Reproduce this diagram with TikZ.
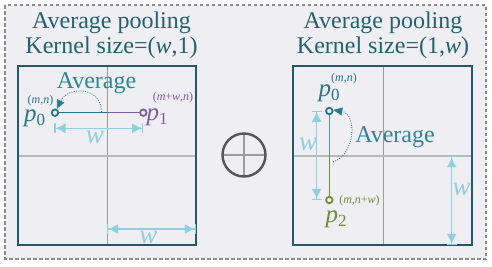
\documentclass[tikz,border=0pt]{standalone}
\usepackage{fontspec}
\setmainfont{Liberation Serif}
\usetikzlibrary{arrows.meta}
\definecolor{bgc}{HTML}{EEEEF3}
\definecolor{sqc}{HTML}{1F5B69}
\definecolor{titc}{HTML}{22626E}
\definecolor{avgc}{HTML}{2A8797}
\definecolor{tealc}{HTML}{23788A}
\definecolor{purc}{HTML}{7F5DA0}
\definecolor{grnc}{HTML}{6E8E3A}
\definecolor{wc}{HTML}{8ECFE0}
\definecolor{gridc}{HTML}{9C9C9C}
\definecolor{hgridc}{HTML}{B8B8B8}
\definecolor{dashc}{HTML}{8A8A8A}
\definecolor{oplusc}{HTML}{555555}
\tikzset{
  title/.style={font=\fontsize{24}{28}\selectfont, text=titc, inner sep=0, anchor=base},
  avg/.style={font=\fontsize{24}{28}\selectfont, text=avgc, inner sep=0, anchor=base},
  ptc/.style={circle, draw, line width=1.8pt, minimum size=6.5pt, inner sep=0, fill=bgc},
  plab/.style={font=\fontsize{25}{28}\selectfont, inner sep=0, anchor=base},
  crd/.style={font=\fontsize{12}{14}\selectfont, inner sep=0},
  warrow/.style={wc, line width=1.2pt, {Bar[width=10pt]Latex[length=10pt,width=10pt]}-{Latex[length=10pt,width=10pt]Bar[width=10pt]}},
  wlab/.style={font=\fontsize{27}{28}\selectfont\itshape, text=wc, inner sep=0, anchor=base},
  arcarrow/.style={avgc, line width=0.8pt, dash pattern=on 1pt off 1.3pt, -{Triangle[length=9pt,width=8pt,fill=tealc]}},
  sq/.style={draw=sqc, line width=2.8pt},
  vgrid/.style={gridc, line width=1pt},
  hgrid/.style={hgridc, line width=1.6pt},
}
\newcommand{\psub}[2]{\textit{#1}\raisebox{-4pt}{\fontsize{17}{18}\selectfont #2}}
\begin{document}
\begin{tikzpicture}[x=1pt,y=-1pt]
\useasboundingbox (0,0) rectangle (492,266);
% outer frame
\draw[dashc, line width=1.8pt, dash pattern=on 3.5pt off 2.5pt, fill=bgc] (5,5) rectangle (486,259);
% titles
\node[title] (tl1) at (111.5,28.5) {Average pooling};
\node[title] (tl2) at (111.5,53) {Kernel size=(\textit{w},1)};
\node[title] (tr1) at (383,28.5) {Average pooling};
\node[title] (tr2) at (383,53) {Kernel size=(1,\textit{w})};
% left square
\draw[vgrid] (107,66) -- (107,245);
\draw[hgrid] (18,156) -- (196,156);
\draw[sq] (18,66) rectangle (196,245);
% right square
\draw[vgrid] (383,66) -- (383,245);
\draw[hgrid] (293,156) -- (472,156);
\draw[sq] (293,66) rectangle (472,245);
% oplus
\node[circle, minimum size=43pt, inner sep=0] (oplus) at (244,155) {};
\draw[gridc, line width=1.3pt] (oplus.north) -- (oplus.south);
\draw[gridc, line width=1.3pt] (oplus.west) -- (oplus.east);
\draw[oplusc, line width=2.4pt] (oplus) circle (21.5pt);
% left panel
\coordinate (midl) at (107,112.7);
\coordinate (p0l) at (55,112.7);
\coordinate (p1l) at (143.3,112.7);
\draw[tealc, line width=1.2pt] (p0l) -- (midl);
\draw[purc, line width=1.2pt] (midl) -- (p1l);
\node[ptc, draw=tealc] (p0) at (p0l) {};
\node[ptc, draw=purc] (p1) at (p1l) {};
\node[avg] (avgl) at (96.5,88.3) {Average};
\coordinate (arcls) at (101.5,112);
\draw[arcarrow] (arcls) .. controls (101,86) and (68,86) .. (p0.65);
\node[plab, text=tealc] (lp0) at (34.5,121) {\psub{p}{0}};
\node[plab, text=purc] (lp1) at (157,120.5) {\psub{p}{1}};
\node[crd, text=tealc] (c0) at (40.5,100.5) {(\textit{m},\textit{n})};
\node[crd, text=purc] (c1) at (173,97.5) {(\textit{m}+\textit{w},\textit{n})};
\coordinate (wa1s) at (54.3,128.3);
\coordinate (wa1e) at (143.3,128.3);
\draw[warrow] (wa1s) -- (wa1e);
\node[wlab] (wl1) at (95,143) {w};
\coordinate (wa2s) at (107,229);
\coordinate (wa2e) at (196,229);
\draw[warrow] (wa2s) -- (wa2e);
\node[wlab] (wl2) at (148.5,243) {w};
% right panel
\coordinate (midr) at (329.3,156);
\coordinate (p0rc) at (329.3,111);
\coordinate (p2rc) at (329.3,200);
\draw[tealc!80, line width=1.2pt] (p0rc) -- (midr);
\draw[grnc, line width=1.2pt] (midr) -- (p2rc);
\node[ptc, draw=tealc] (p0r) at (p0rc) {};
\node[ptc, draw=grnc] (p2) at (p2rc) {};
\node[avg] (avgr) at (395,142.7) {Average};
\coordinate (arcrs) at (333,162);
\draw[arcarrow] (arcrs) .. controls (356,154) and (357,114) .. (p0r.15);
\node[plab, text=tealc] (rp0) at (329,96) {\psub{p}{0}};
\node[plab, text=grnc] (rp2) at (336,222.5) {\psub{p}{2}};
\node[crd, text=tealc] (c0r) at (344,79) {(\textit{m},\textit{n})};
\node[crd, text=grnc] (c2) at (359.5,200.5) {(\textit{m},\textit{n}+\textit{w})};
\coordinate (wa3s) at (316.7,110.7);
\coordinate (wa3e) at (316.7,200);
\draw[warrow] (wa3s) -- (wa3e);
\node[wlab] (wl3) at (308,150.7) {w};
\coordinate (wa4s) at (451.7,156);
\coordinate (wa4e) at (451.7,245);
\draw[warrow] (wa4s) -- (wa4e);
\node[wlab] (wl4) at (461.5,195) {w};
\end{tikzpicture}
\end{document}
